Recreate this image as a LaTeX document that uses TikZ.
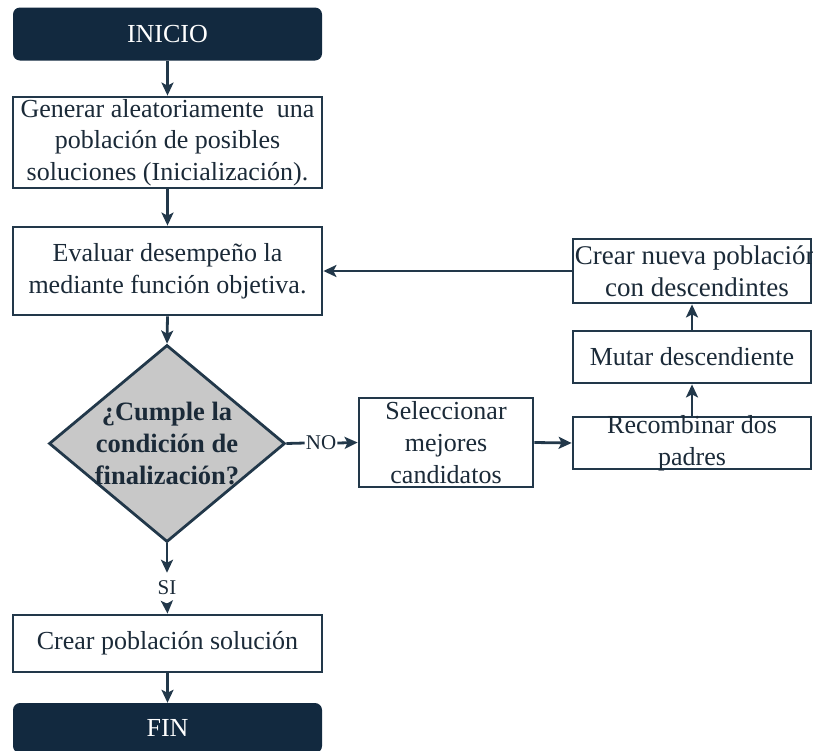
\documentclass[tikz,border=0pt]{standalone}
\usepackage{fontspec}
\setmainfont{Liberation Serif}
\usetikzlibrary{shapes.geometric,arrows.meta}
\definecolor{navy}{HTML}{12293F}
\definecolor{edge}{HTML}{22384A}
\definecolor{ink}{HTML}{1B2A38}
\definecolor{decision}{HTML}{C8C8C8}
\newcommand{\flowfont}{\fontsize{26}{31.7}\selectfont}

\begin{document}
\begin{tikzpicture}[x=1pt,y=-1pt,
  box/.style={draw=edge, line width=2.8pt, fill=white, inner sep=0pt,
              align=center, text=ink, font=\flowfont},
  term/.style={fill=navy, rounded corners=7pt, inner sep=0pt,
               text=white, font=\flowfont},
  txt/.style={inner sep=0pt, align=center, text=ink, font=\flowfont},
  arr/.style={draw=edge, line width=2.8pt,
              -{Stealth[length=13pt,width=12pt,inset=3pt]}},
  link/.style={draw=edge, line width=2.8pt},
  tag/.style={inner xsep=1pt, inner ysep=8pt, text=ink,
              font=\fontsize{21}{24}\selectfont}
]
\useasboundingbox (0,0) rectangle (813,750);

% main column
\node[term, minimum width=309pt, minimum height=53pt] (inicio) at (167.5,34) {INICIO};
\node[box, minimum width=309pt, minimum height=91pt] (gen) at (167.5,142.5)
  {Generar aleatoriamente~ una\\población de posibles\\soluciones (Inicialización).};
\node[box, minimum width=309pt, minimum height=88pt] (eval) at (167.5,271)
  {Evaluar desempeño la\\mediante función objetiva.};
\node[draw=edge, line width=2.8pt, fill=decision, diamond, inner sep=0pt,
      minimum width=236pt, minimum height=197pt] (dia) at (167,443.5) {};
\node[txt, font=\fontsize{26.5}{31.7}\selectfont\bfseries] (diat) at (dia.center)
  {¿Cumple la\\condición de\\finalización?};
\node[tag] (si) at (167,588) {SI};
\node[box, minimum width=309pt, minimum height=57pt] (sol) at (167.5,643.5)
  {Crear población solución};
\node[term, minimum width=309pt, minimum height=50pt] (fin) at (167.5,728) {FIN};

% loop branch
\node[tag, inner ysep=1pt] (no) at (321,443) {NO};
\node[box, minimum width=174pt, minimum height=89pt] (sel) at (446,442.5)
  {Seleccionar\\mejores\\candidatos};
\node[box, minimum width=238pt, minimum height=52pt] (rec) at (692,443) {};
\node[txt] (rect) at (rec.center) {Recombinar dos\\padres};
\node[box, minimum width=238pt, minimum height=52pt] (mut) at (692,357)
  {Mutar descendiente};
\node[box, minimum width=238pt, minimum height=64pt] (nueva) at (692,271) {};
\node[txt, font=\fontsize{27}{31.7}\selectfont, xshift=5pt] (nuevat) at (nueva.center)
  {Crear nueva población\\con descendintes};

% connectors
\draw[arr] (inicio.south) -- (gen.north);
\draw[arr] (gen.south) -- (eval.north);
\draw[arr] (eval.south) -- (dia.north);
\draw[arr] (dia.south) -- (si.north);
\draw[arr] (si.south) -- (sol.north);
\draw[arr] (sol.south) -- (fin.north);
\draw[link] (dia.east) -- (no.west);
\draw[arr] (no.east) -- (sel.west);
\draw[arr] (sel.east) -- (rec.west);
\draw[arr] (rec.north) -- (mut.south);
\draw[arr] (mut.north) -- (nueva.south);
\draw[arr] (nueva.west) -- (eval.east);
\end{tikzpicture}
\end{document}
